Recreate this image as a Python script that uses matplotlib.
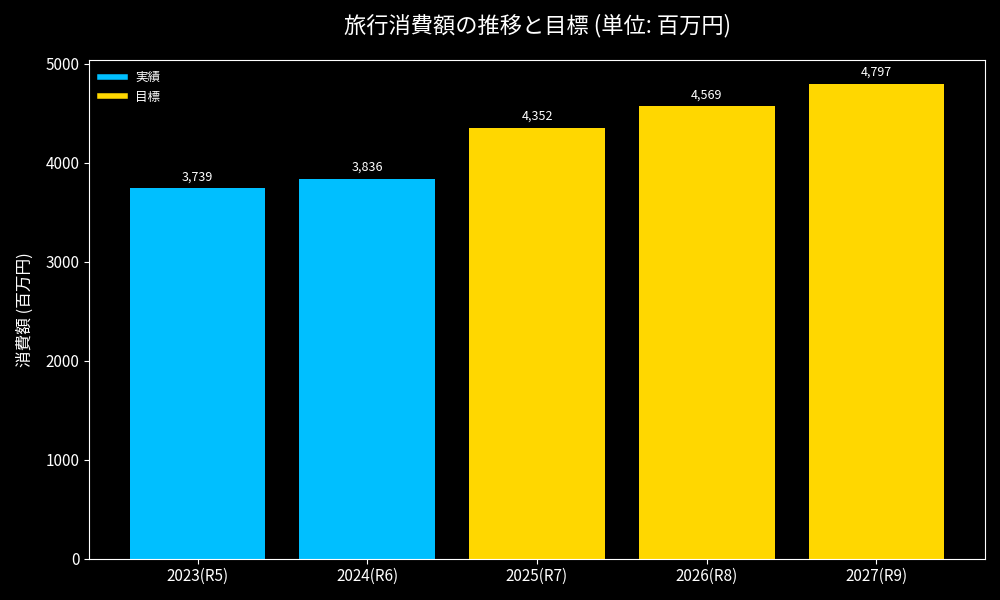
import matplotlib
matplotlib.use("Agg")
import matplotlib.pyplot as plt
from matplotlib.lines import Line2D

plt.rcParams['font.family'] = ['Noto Sans CJK JP', 'DejaVu Sans']

categories = ["2023(R5)", "2024(R6)", "2025(R7)", "2026(R8)", "2027(R9)"]
values = [3739, 3836, 4352, 4569, 4797]
kinds = ["実績", "実績", "目標", "目標", "目標"]
colors_map = {"実績": "#00BFFF", "目標": "#FFD700"}

fig, ax = plt.subplots(figsize=(10, 6), dpi=100)
fig.patch.set_facecolor("black")
ax.set_facecolor("black")

x = range(len(categories))
bars = ax.bar(x, values, width=0.8, color=[colors_map[k] for k in kinds])
for b, v in zip(bars, values):
    ax.text(b.get_x() + b.get_width() / 2, v + 50, f"{v:,}", ha="center", va="bottom",
            color="white", fontsize=9)

ax.set_xticks(list(x))
ax.set_xticklabels(categories)
ax.set_ylim(0, max(values) * 1.05)
ax.set_ylabel("消費額 (百万円)", color="white", fontsize=12, labelpad=8)
ax.set_title("旅行消費額の推移と目標 (単位: 百万円)", color="white", fontsize=16, pad=20)
ax.tick_params(colors="white", labelsize=11)
for s in ax.spines.values():
    s.set_color("white")

handles = [Line2D([0], [0], color=colors_map["実績"], lw=4),
           Line2D([0], [0], color=colors_map["目標"], lw=4)]
leg = ax.legend(handles, ["実績", "目標"], loc="upper left", frameon=False, fontsize=9)
for t in leg.get_texts():
    t.set_color("white")

fig.subplots_adjust(left=0.089, right=0.985, top=0.90, bottom=0.069)
fig.savefig("out.png", dpi=100, facecolor="black")
